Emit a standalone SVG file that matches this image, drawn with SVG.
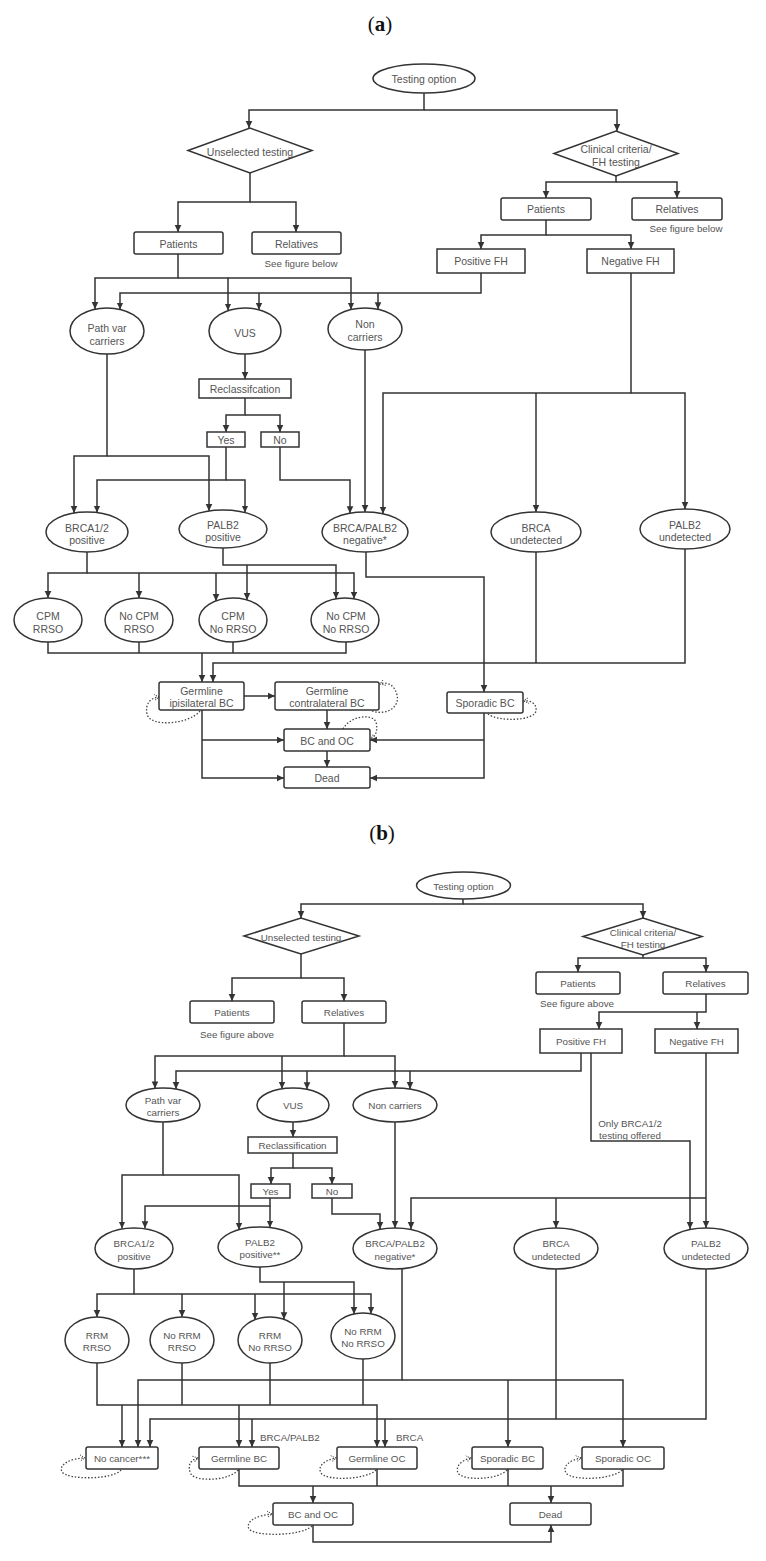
<svg xmlns="http://www.w3.org/2000/svg" width="766" height="1561" viewBox="0 0 766 1561">
<defs>
<style>
.n{fill:#fff;stroke:#333;stroke-width:1.5}
.t{font-family:"Liberation Sans",Arial,sans-serif;font-size:10.5px;fill:#555;text-anchor:middle;dominant-baseline:central}
.tb{font-family:"Liberation Sans",Arial,sans-serif;font-size:9.8px;fill:#555;text-anchor:middle;dominant-baseline:central}
.st{text-anchor:start}
.s{font-size:9.8px}
.c{fill:none;stroke:#333;stroke-width:1.5}
.a{marker-end:url(#ah)}
.lp{fill:none;stroke:#444;stroke-width:1.3;stroke-dasharray:1.5 1.8;marker-end:url(#lh)}
.ttl{font-family:"Liberation Serif","Times New Roman",serif;font-size:21px;fill:#111;text-anchor:middle}
</style>
<marker id="ah" markerWidth="8" markerHeight="8" refX="7" refY="4" orient="auto" markerUnits="userSpaceOnUse"><path d="M0,0.7 L7,4 L0,7.3 Z" fill="#333"/></marker>
<marker id="lh" markerWidth="7" markerHeight="8" refX="5" refY="4" orient="auto" markerUnits="userSpaceOnUse"><path d="M0,0.8 L5,4 L0,7.2" fill="none" stroke="#444" stroke-width="1" stroke-dasharray="1.2 1.2"/></marker>
</defs>
<rect width="766" height="1561" fill="#fff"/>
<text class="ttl" x="380" y="31">(<tspan font-weight="bold">a</tspan>)</text>
<text class="ttl" x="382" y="840">(<tspan font-weight="bold">b</tspan>)</text>

<g id="connectors">
<!-- part a -->
<path class="c a" d="M424,93 V110 H249 V128"/>
<path class="c a" d="M424,110 H617 V131"/>
<path class="c a" d="M250,173 V202 H178 V232"/>
<path class="c a" d="M250,202 H296 V232"/>
<path class="c a" d="M616,176 V182 H546 V198"/>
<path class="c a" d="M616,182 H677 V198"/>
<path class="c a" d="M546,220 V235 H481 V249"/>
<path class="c a" d="M546,235 H631 V249"/>
<path class="c a" d="M178,254 V278 H95 V309"/>
<path class="c a" d="M178,278 H228 V310.5"/>
<path class="c a" d="M228,278 H351 V309.5"/>
<path class="c a" d="M481,273 V293 H120 V309.5"/>
<path class="c a" d="M259,293 V309.8"/>
<path class="c a" d="M378,293 V309.3"/>
<path class="c a" d="M245,354 V379"/>
<path class="c a" d="M245,398 V415 H226 V432"/>
<path class="c a" d="M245,415 H280 V432"/>
<path class="c a" d="M107,354 V456 H74 V513"/>
<path class="c a" d="M107,456 H209 V511"/>
<path class="c a" d="M226,447 V480 H97 V512.6"/>
<path class="c a" d="M226,480 H245 V512.5"/>
<path class="c a" d="M280,447 V480 H350 V513.3"/>
<path class="c a" d="M365,350 V512"/>
<path class="c a" d="M631,273 V393 H383 V513.8"/>
<path class="c a" d="M536,393 V512"/>
<path class="c a" d="M631,393 H685 V509"/>
<path class="c a" d="M87,552 V573 H48 V598"/>
<path class="c a" d="M87,573 H354 V598.8"/>
<path class="c a" d="M139,573 V598"/>
<path class="c a" d="M216,573 V601"/>
<path class="c a" d="M223,548 V565 H336 V598.8"/>
<path class="c a" d="M247,565 V600"/>
<path class="c" d="M48,642 V653 H346 V642"/>
<path class="c" d="M139,642 V653"/>
<path class="c" d="M233,642 V653"/>
<path class="c a" d="M202,653 V682"/>
<path class="c a" d="M366,552 V577 H484 V692"/>
<path class="c a" d="M685,549 V663 H213 V682"/>
<path class="c" d="M536,552 V663"/>
<path class="c a" d="M244,696 H275"/>
<path class="c a" d="M327,710 V729"/>
<path class="c a" d="M327,751 V767"/>
<path class="c a" d="M202,710 V778 H284"/>
<path class="c a" d="M202,740 H284"/>
<path class="c a" d="M484,713 V778 H370"/>
<path class="c a" d="M484,740 H370"/>
<path class="lp" d="M200,711 C190,724 150,728 147,714 C145,704 150,698 159,697"/>
<path class="lp" d="M372,711 C388,716 400,706 397,695 C395,686 388,681 380,684"/>
<path class="lp" d="M343,729 C350,716 372,713 376,722 C378,730 376,736 371,739"/>
<path class="lp" d="M488,714 C498,722 534,721 536,711 C537,704 531,700 524,701"/>
<!-- part b -->
<path class="c a" d="M463,899 V904 H301 V918"/>
<path class="c a" d="M463,904 H643 V918"/>
<path class="c a" d="M301,954 V978 H232 V1001"/>
<path class="c a" d="M301,978 H344 V1001"/>
<path class="c a" d="M643,955 V958 H578 V972"/>
<path class="c a" d="M643,958 H706 V972"/>
<path class="c a" d="M706,994 V1012 H599 V1029"/>
<path class="c a" d="M697,1012 V1029"/>
<path class="c a" d="M344,1023 V1056 H155 V1088.4"/>
<path class="c a" d="M282,1056 V1088.8"/>
<path class="c a" d="M344,1056 H395 V1088"/>
<path class="c a" d="M581,1053 V1071 H176 V1089"/>
<path class="c a" d="M307,1071 V1089.3"/>
<path class="c a" d="M410,1071 V1089.1"/>
<path class="c a" d="M591,1053 V1141 H690 V1229"/>
<path class="c a" d="M706,1053 V1228" stroke-width="2.3"/>
<path class="c a" d="M706,1198 H411 V1229"/>
<path class="c a" d="M556,1198 V1228"/>
<path class="c a" d="M293,1122 V1137"/>
<path class="c a" d="M293,1153 V1168 H271 V1184"/>
<path class="c a" d="M293,1168 H332 V1184"/>
<path class="c a" d="M163,1122 V1175 H122 V1228.5"/>
<path class="c a" d="M163,1175 H239 V1229.7"/>
<path class="c a" d="M270,1198 V1206 H145 V1228.3"/>
<path class="c a" d="M270,1206 V1227.6"/>
<path class="c a" d="M332,1198 V1214 H380 V1228.9"/>
<path class="c a" d="M395,1122 V1228"/>
<path class="c a" d="M134,1269 V1294 H97 V1317"/>
<path class="c a" d="M134,1294 H371 V1313.7"/>
<path class="c a" d="M182,1294 V1317"/>
<path class="c a" d="M255,1294 V1319.7"/>
<path class="c a" d="M260,1267 V1282 H354 V1314"/>
<path class="c a" d="M284,1282 V1319.3"/>
<path class="c a" d="M97,1363 V1405 H377 V1447"/>
<path class="c" d="M182,1363 V1405"/>
<path class="c" d="M270,1363 V1405"/>
<path class="c" d="M363,1359 V1405"/>
<path class="c a" d="M122,1405 V1447"/>
<path class="c a" d="M239,1405 V1447"/>
<path class="c a" d="M402,1268 V1380 H138 V1447"/>
<path class="c a" d="M402,1380 H623 V1447"/>
<path class="c a" d="M508,1380 V1447"/>
<path class="c a" d="M706,1269 V1419 H150 V1447"/>
<path class="c" d="M556,1269 V1419"/>
<path class="c a" d="M252,1419 V1447"/>
<path class="c a" d="M385,1419 V1447"/>
<path class="c" d="M239,1469 V1486 H623 V1469"/>
<path class="c" d="M377,1469 V1486"/>
<path class="c" d="M508,1469 V1486"/>
<path class="c a" d="M313,1486 V1503"/>
<path class="c a" d="M551,1486 V1503"/>
<path class="c a" d="M313,1525 V1542 H551 V1525"/>
<path class="lp" d="M121,1470 C112,1480 68,1480 62,1472 C58,1464 72,1458 85,1458"/>
<path class="lp" d="M238,1470 C229,1481 196,1482 191,1474 C187,1466 190,1460 198,1458"/>
<path class="lp" d="M376,1470 C366,1480 326,1481 321,1473 C317,1466 325,1460 336,1458"/>
<path class="lp" d="M312,1526 C302,1536 256,1537 249,1529 C245,1521 258,1515 272,1514"/>
<path class="lp" d="M507,1470 C498,1480 463,1481 458,1473 C455,1466 462,1460 471,1458"/>
<path class="lp" d="M622,1470 C612,1480 572,1481 566,1473 C562,1466 570,1460 581,1458"/>
<text class="tb st" x="260" y="1437">BRCA/PALB2</text>
<text class="tb st" x="396" y="1437">BRCA</text>
<text class="tb" x="630" y="1123">Only BRCA1/2</text>
<text class="tb" x="630" y="1135">testing offered</text>
</g>

<!-- part a nodes -->
<g id="a_testing_option"><ellipse class="n" cx="424" cy="78.5" rx="51" ry="14.5"/><text class="t" x="424" y="79">Testing option</text></g>
<g id="a_unselected"><polygon class="n" points="188,150.5 250,128 312,150.5 250,173"/><text class="t" x="250" y="151.5">Unselected testing</text></g>
<g id="a_clinical"><polygon class="n" points="554,153.5 616,131 678,153.5 616,176"/><text class="t" x="616" y="149">Clinical criteria/</text><text class="t" x="616" y="162">FH testing</text></g>
<g id="a_patients_l"><rect class="n" x="134" y="232" width="89" height="22" rx="2"/><text class="t" x="178.5" y="243.5">Patients</text></g>
<g id="a_relatives_l"><rect class="n" x="252" y="232" width="89" height="22" rx="2"/><text class="t" x="296.5" y="243.5">Relatives</text><text class="t s" x="301" y="263">See figure below</text></g>
<g id="a_patients_r"><rect class="n" x="501" y="198" width="90" height="22" rx="2"/><text class="t" x="546" y="209">Patients</text></g>
<g id="a_relatives_r"><rect class="n" x="632" y="198" width="90" height="22" rx="2"/><text class="t" x="677" y="209">Relatives</text><text class="t s" x="686" y="228">See figure below</text></g>
<g id="a_posfh"><rect class="n" x="437" y="249" width="88" height="24"/><text class="t" x="481" y="261">Positive FH</text></g>
<g id="a_negfh"><rect class="n" x="587" y="249" width="87" height="24"/><text class="t" x="630.5" y="261">Negative FH</text></g>
<g id="a_pathvar"><ellipse class="n" cx="107" cy="331" rx="37" ry="23"/><text class="t" x="107" y="328">Path var</text><text class="t" x="107" y="341">carriers</text></g>
<g id="a_vus"><ellipse class="n" cx="245" cy="331" rx="36" ry="23"/><text class="t" x="245" y="333">VUS</text></g>
<g id="a_noncarriers"><ellipse class="n" cx="365" cy="329" rx="37" ry="21"/><text class="t" x="365" y="324">Non</text><text class="t" x="365" y="337">carriers</text></g>
<g id="a_reclass"><rect class="n" x="199" y="379" width="92" height="19"/><text class="t" x="245" y="389">Reclassifcation</text></g>
<g id="a_yes"><rect class="n" x="207" y="432" width="38" height="15"/><text class="t" x="226" y="440">Yes</text></g>
<g id="a_no"><rect class="n" x="261" y="432" width="38" height="15"/><text class="t" x="280" y="440">No</text></g>
<g id="a_brca12pos"><ellipse class="n" cx="87" cy="532" rx="41" ry="20"/><text class="t" x="87" y="528">BRCA1/2</text><text class="t" x="87" y="540">positive</text></g>
<g id="a_palb2pos"><ellipse class="n" cx="223" cy="529" rx="44" ry="19"/><text class="t" x="223" y="525">PALB2</text><text class="t" x="223" y="537">positive</text></g>
<g id="a_neg"><ellipse class="n" cx="365" cy="532" rx="43" ry="20"/><text class="t" x="365" y="528">BRCA/PALB2</text><text class="t" x="365" y="540">negative*</text></g>
<g id="a_brcaund"><ellipse class="n" cx="536" cy="532" rx="45" ry="20"/><text class="t" x="536" y="528">BRCA</text><text class="t" x="536" y="540">undetected</text></g>
<g id="a_palb2und"><ellipse class="n" cx="685" cy="529" rx="45" ry="20"/><text class="t" x="685" y="525">PALB2</text><text class="t" x="685" y="537">undetected</text></g>
<g id="a_cpm_rrso"><ellipse class="n" cx="48" cy="620" rx="34" ry="22"/><text class="t" x="48" y="616">CPM</text><text class="t" x="48" y="629">RRSO</text></g>
<g id="a_nocpm_rrso"><ellipse class="n" cx="139" cy="620" rx="34" ry="22"/><text class="t" x="139" y="616">No CPM</text><text class="t" x="139" y="629">RRSO</text></g>
<g id="a_cpm_norrso"><ellipse class="n" cx="233" cy="620" rx="34" ry="22"/><text class="t" x="233" y="616">CPM</text><text class="t" x="233" y="629">No RRSO</text></g>
<g id="a_nocpm_norrso"><ellipse class="n" cx="345" cy="620" rx="34" ry="22"/><text class="t" x="346" y="616">No CPM</text><text class="t" x="346" y="629">No RRSO</text></g>
<g id="a_germ_ipsi"><rect class="n" x="159" y="682" width="85" height="28" rx="2"/><text class="t" x="201.5" y="691">Germline</text><text class="t" x="201.5" y="703">ipisilateral BC</text></g>
<g id="a_germ_contra"><rect class="n" x="275" y="682" width="104" height="28" rx="2"/><text class="t" x="327" y="691">Germline</text><text class="t" x="327" y="703">contralateral BC</text></g>
<g id="a_bcoc"><rect class="n" x="284" y="729" width="86" height="22" rx="2"/><text class="t" x="327" y="740.5">BC and OC</text></g>
<g id="a_dead"><rect class="n" x="284" y="767" width="86" height="21" rx="2"/><text class="t" x="327" y="778">Dead</text></g>
<g id="a_sporadic"><rect class="n" x="447" y="692" width="76" height="21" rx="2"/><text class="t" x="485" y="703">Sporadic BC</text></g>

<!-- part b nodes -->
<g id="b_testing_option"><ellipse class="n" cx="463.5" cy="885.5" rx="47" ry="13.5"/><text class="tb" x="463.5" y="886">Testing option</text></g>
<g id="b_unselected"><polygon class="n" points="244,936 301,918 359,936 301,954"/><text class="tb" x="301" y="937.5">Unselected testing</text></g>
<g id="b_clinical"><polygon class="n" points="583,936.5 643,918 702,936.5 643,955"/><text class="tb" x="643" y="932">Clinical criteria/</text><text class="tb" x="643" y="944">FH testing</text></g>
<g id="b_patients_l"><rect class="n" x="190" y="1001" width="84" height="22" rx="2"/><text class="tb" x="232" y="1012">Patients</text><text class="tb" x="237" y="1034">See figure above</text></g>
<g id="b_relatives_l"><rect class="n" x="302" y="1001" width="84" height="22" rx="2"/><text class="tb" x="344" y="1012">Relatives</text></g>
<g id="b_patients_r"><rect class="n" x="536" y="972" width="84" height="22" rx="2"/><text class="tb" x="578" y="983.5">Patients</text><text class="tb" x="577" y="1003">See figure above</text></g>
<g id="b_relatives_r"><rect class="n" x="663" y="972" width="85" height="22" rx="2"/><text class="tb" x="705.5" y="983.5">Relatives</text></g>
<g id="b_posfh"><rect class="n" x="540" y="1029" width="82" height="24"/><text class="tb" x="581" y="1041">Positive FH</text></g>
<g id="b_negfh"><rect class="n" x="655" y="1029" width="83" height="24"/><text class="tb" x="696.5" y="1041">Negative FH</text></g>
<g id="b_pathvar"><ellipse class="n" cx="163" cy="1105" rx="37" ry="17"/><text class="tb" x="163" y="1100">Path var</text><text class="tb" x="163" y="1112">carriers</text></g>
<g id="b_vus"><ellipse class="n" cx="293" cy="1105" rx="36" ry="17"/><text class="tb" x="293" y="1105">VUS</text></g>
<g id="b_noncarriers"><ellipse class="n" cx="395" cy="1105" rx="42" ry="17"/><text class="tb" x="395" y="1105">Non carriers</text></g>
<g id="b_reclass"><rect class="n" x="248" y="1137" width="89" height="16"/><text class="tb" x="292.5" y="1145">Reclassification</text></g>
<g id="b_yes"><rect class="n" x="251" y="1184" width="39" height="14"/><text class="tb" x="270.5" y="1191.5">Yes</text></g>
<g id="b_no"><rect class="n" x="312" y="1184" width="40" height="14"/><text class="tb" x="332" y="1191.5">No</text></g>
<g id="b_brca12pos"><ellipse class="n" cx="134" cy="1248.5" rx="39" ry="20.5"/><text class="tb" x="134" y="1243">BRCA1/2</text><text class="tb" x="134" y="1256">positive</text></g>
<g id="b_palb2pos"><ellipse class="n" cx="260" cy="1247" rx="42" ry="20"/><text class="tb" x="260" y="1242">PALB2</text><text class="tb" x="260" y="1254">positive**</text></g>
<g id="b_neg"><ellipse class="n" cx="395" cy="1248.5" rx="42" ry="20.5"/><text class="tb" x="395" y="1243">BRCA/PALB2</text><text class="tb" x="395" y="1256">negative*</text></g>
<g id="b_brcaund"><ellipse class="n" cx="556" cy="1248.5" rx="42" ry="20.5"/><text class="tb" x="556" y="1243">BRCA</text><text class="tb" x="556" y="1256">undetected</text></g>
<g id="b_palb2und"><ellipse class="n" cx="706" cy="1248.5" rx="42" ry="20.5"/><text class="tb" x="706" y="1243">PALB2</text><text class="tb" x="706" y="1256">undetected</text></g>
<g id="b_rrm_rrso"><ellipse class="n" cx="97" cy="1340" rx="32" ry="23"/><text class="tb" x="97" y="1335">RRM</text><text class="tb" x="97" y="1347">RRSO</text></g>
<g id="b_norrm_rrso"><ellipse class="n" cx="182" cy="1340" rx="32" ry="23"/><text class="tb" x="182" y="1335">No RRM</text><text class="tb" x="182" y="1347">RRSO</text></g>
<g id="b_rrm_norrso"><ellipse class="n" cx="270" cy="1340" rx="32" ry="23"/><text class="tb" x="270" y="1335">RRM</text><text class="tb" x="270" y="1347">No RRSO</text></g>
<g id="b_norrm_norrso"><ellipse class="n" cx="363" cy="1336" rx="32" ry="23"/><text class="tb" x="363" y="1331">No RRM</text><text class="tb" x="363" y="1343">No RRSO</text></g>
<g id="b_nocancer"><rect class="n" x="86" y="1447" width="72" height="22" rx="2"/><text class="tb" x="122" y="1458.5">No cancer***</text></g>
<g id="b_germbc"><rect class="n" x="199" y="1447" width="80" height="22" rx="2"/><text class="tb" x="239" y="1458.5">Germline BC</text></g>
<g id="b_germoc"><rect class="n" x="337" y="1447" width="80" height="22" rx="2"/><text class="tb" x="377" y="1458.5">Germline OC</text></g>
<g id="b_spobc"><rect class="n" x="472" y="1447" width="71" height="22" rx="2"/><text class="tb" x="507.5" y="1458.5">Sporadic BC</text></g>
<g id="b_spooc"><rect class="n" x="582" y="1447" width="82" height="22" rx="2"/><text class="tb" x="623" y="1458.5">Sporadic OC</text></g>
<g id="b_bcoc"><rect class="n" x="273" y="1503" width="80" height="22" rx="2"/><text class="tb" x="313" y="1514.5">BC and OC</text></g>
<g id="b_dead"><rect class="n" x="510" y="1503" width="81" height="22" rx="2"/><text class="tb" x="550.5" y="1514.5">Dead</text></g>
</svg>
